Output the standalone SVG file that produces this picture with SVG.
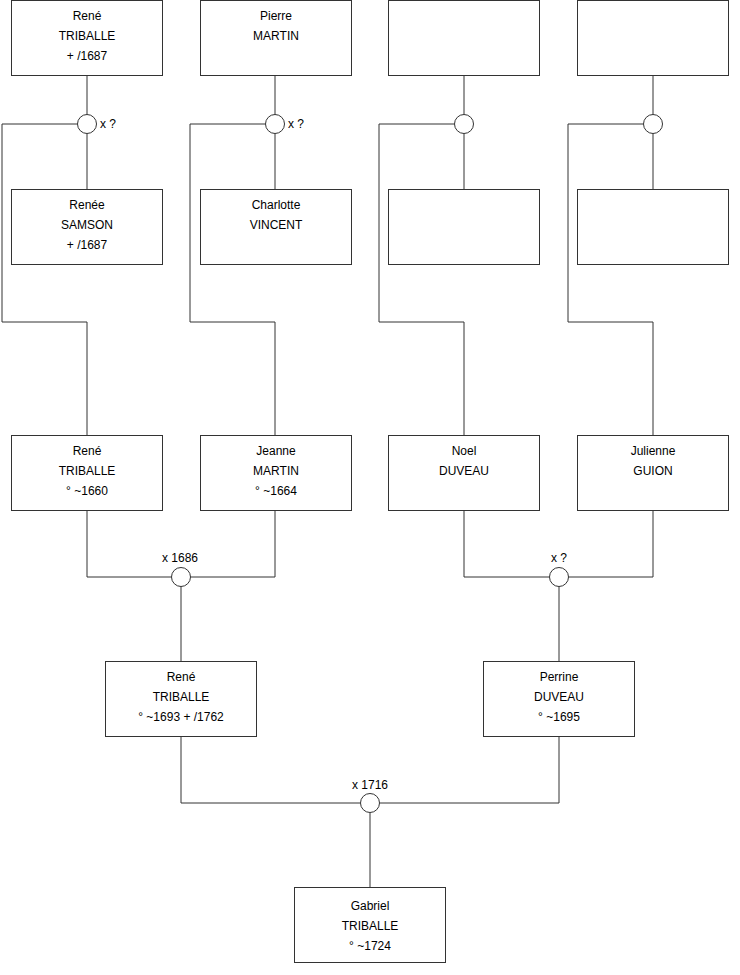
<svg xmlns="http://www.w3.org/2000/svg" width="740" height="975" viewBox="0 0 740 975">
<style>
.box{fill:#fff;stroke:#333;stroke-width:1}
.c{fill:#fff;stroke:#333;stroke-width:1}
.ln{fill:none;stroke:#333;stroke-width:1}
text{font-family:"Liberation Sans",Arial,sans-serif;font-size:12px;fill:#000}
.m{text-anchor:middle}
</style>
<rect width="740" height="975" fill="#fff"/>
<g id="connectors">
<path class="ln" d="M87,76V114.5M87,133.5V189M77.5,124H2V322H87V435"/>
<path class="ln" d="M275,76V114.5M275,133.5V189M265.5,124H190V322H275V435"/>
<path class="ln" d="M464,76V114.5M464,133.5V189M454.5,124H379V322H464V435"/>
<path class="ln" d="M653,76V114.5M653,133.5V189M643.5,124H568V322H653V435"/>
<path class="ln" d="M87,511V577H171.5M190.5,577H275V511M181,586.5V661"/>
<path class="ln" d="M464,511V577H549.5M568.5,577H653V511M559,586.5V661"/>
<path class="ln" d="M181,737V803H360.5M379.5,803H559V737M370,812.5V888"/>
</g>
<g id="u1"><circle class="c" cx="87" cy="124" r="9.5"/><text x="100" y="128">x ?</text></g>
<g id="u2"><circle class="c" cx="275" cy="124" r="9.5"/><text x="288" y="128">x ?</text></g>
<g id="u3"><circle class="c" cx="464" cy="124" r="9.5"/></g>
<g id="u4"><circle class="c" cx="653" cy="124" r="9.5"/></g>
<g id="u5"><circle class="c" cx="181" cy="577" r="9.5"/><text class="m" x="180" y="562">x 1686</text></g>
<g id="u6"><circle class="c" cx="559" cy="577" r="9.5"/><text class="m" x="559" y="562">x ?</text></g>
<g id="u7"><circle class="c" cx="370" cy="803" r="9.5"/><text class="m" x="370" y="789">x 1716</text></g>
<g id="n1"><rect class="box" x="11.5" y="0.5" width="151" height="75"/><text class="m" x="87" y="20">René</text><text class="m" x="87" y="40">TRIBALLE</text><text class="m" x="87" y="60">+ /1687</text></g>
<g id="n2"><rect class="box" x="200.5" y="0.5" width="151" height="75"/><text class="m" x="276" y="20">Pierre</text><text class="m" x="276" y="40">MARTIN</text></g>
<g id="n3"><rect class="box" x="388.5" y="0.5" width="151" height="75"/></g>
<g id="n4"><rect class="box" x="577.5" y="0.5" width="151" height="75"/></g>
<g id="n5"><rect class="box" x="11.5" y="189.5" width="151" height="75"/><text class="m" x="87" y="209">Renée</text><text class="m" x="87" y="229">SAMSON</text><text class="m" x="87" y="249">+ /1687</text></g>
<g id="n6"><rect class="box" x="200.5" y="189.5" width="151" height="75"/><text class="m" x="276" y="209">Charlotte</text><text class="m" x="276" y="229">VINCENT</text></g>
<g id="n7"><rect class="box" x="388.5" y="189.5" width="151" height="75"/></g>
<g id="n8"><rect class="box" x="577.5" y="189.5" width="151" height="75"/></g>
<g id="n9"><rect class="box" x="11.5" y="435.5" width="151" height="75"/><text class="m" x="87" y="455">René</text><text class="m" x="87" y="475">TRIBALLE</text><text class="m" x="87" y="495">° ~1660</text></g>
<g id="n10"><rect class="box" x="200.5" y="435.5" width="151" height="75"/><text class="m" x="276" y="455">Jeanne</text><text class="m" x="276" y="475">MARTIN</text><text class="m" x="276" y="495">° ~1664</text></g>
<g id="n11"><rect class="box" x="388.5" y="435.5" width="151" height="75"/><text class="m" x="464" y="455">Noel</text><text class="m" x="464" y="475">DUVEAU</text></g>
<g id="n12"><rect class="box" x="577.5" y="435.5" width="151" height="75"/><text class="m" x="653" y="455">Julienne</text><text class="m" x="653" y="475">GUION</text></g>
<g id="n13"><rect class="box" x="105.5" y="661.5" width="151" height="75"/><text class="m" x="181" y="681">René</text><text class="m" x="181" y="701">TRIBALLE</text><text class="m" x="181" y="721">° ~1693 + /1762</text></g>
<g id="n14"><rect class="box" x="483.5" y="661.5" width="151" height="75"/><text class="m" x="559" y="681">Perrine</text><text class="m" x="559" y="701">DUVEAU</text><text class="m" x="559" y="721">° ~1695</text></g>
<g id="n15"><rect class="box" x="294.5" y="887.5" width="151" height="75"/><text class="m" x="370" y="910">Gabriel</text><text class="m" x="370" y="930">TRIBALLE</text><text class="m" x="370" y="950">° ~1724</text></g>
</svg>
